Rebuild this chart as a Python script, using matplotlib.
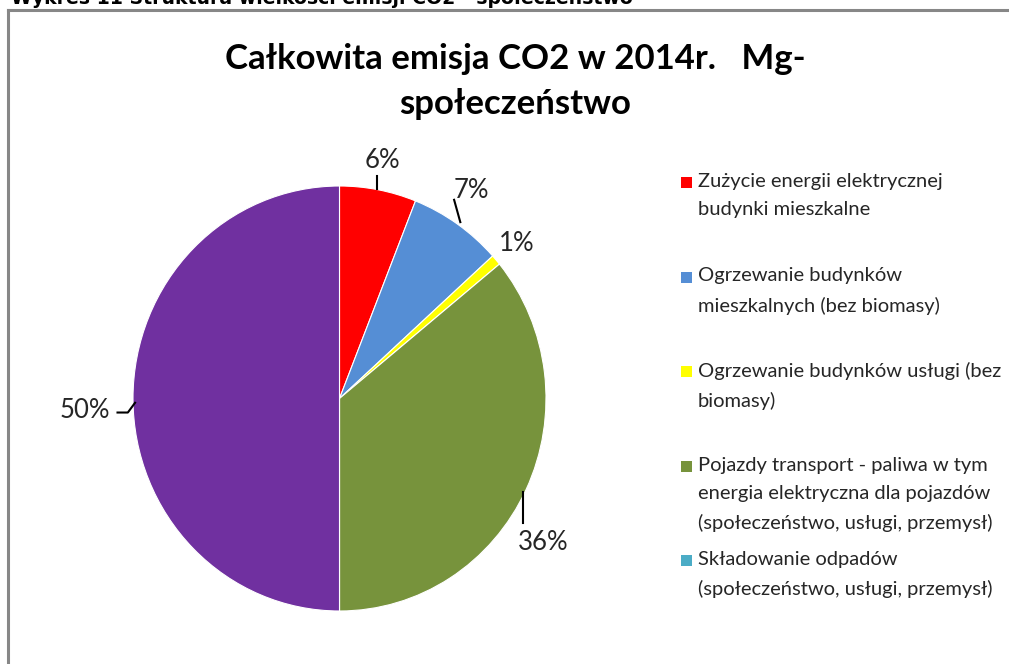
import numpy as np
import matplotlib
matplotlib.use("Agg")
from matplotlib import pyplot as plt
from matplotlib.patches import Rectangle

plt.rcParams['font.family'] = ['Lato', 'DejaVu Sans']

# data
title = "Całkowita emisja CO2 w 2014r.   Mg-\nspołeczeństwo"
caption = "Wykres 11 Struktura wielkości emisji CO2 - społeczeństwo"
categories = [
    "Zużycie energii elektrycznej\nbudynki mieszkalne",
    "Ogrzewanie budynków\nmieszkalnych (bez biomasy)",
    "Ogrzewanie budynków usługi (bez\nbiomasy)",
    "Pojazdy transport - paliwa w tym\nenergia elektryczna dla pojazdów\n(społeczeństwo, usługi, przemysł)",
    "Składowanie odpadów\n(społeczeństwo, usługi, przemysł)",
    "",
]
shares = [6.0, 7.3, 0.8, 35.9, 0.0, 50.0]
colors = ["#FF0000", "#558ED5", "#FFFF00", "#77933C", "#4BACC6", "#7030A0"]
show_in_legend = [True, True, True, True, True, False]

# layout for the percent labels (data units, pie radius = 1)
label_xy = [(0.21, 1.12), (0.64, 0.98), (0.86, 0.73), (0.985, -0.68), None, (-1.235, -0.055)]
leaders = [
    [(0.18, 1.045), (0.18, 0.985)],
    [(0.555, 0.935), (0.585, 0.83)],
    None,
    [(0.89, -0.44), (0.89, -0.585)],
    None,
    [(-1.075, -0.066), (-1.025, -0.066), (-0.99, -0.02)],
]

W, H = 1009, 664
fig = plt.figure(figsize=(W / 100, H / 100), dpi=100)

# outer frame of the chart area
fig.add_artist(plt.Line2D([8 / W, 8 / W], [0, 1 - 10 / H], color="#878787", lw=2.2,
                          transform=fig.transFigure))
fig.add_artist(plt.Line2D([8 / W, 1], [1 - 10 / H, 1 - 10 / H], color="#878787", lw=2.2,
                          transform=fig.transFigure))

# caption above the frame, cut at the top edge
fig.text(11 / W, 1 - 4 / H, caption, family="DejaVu Sans",
         fontsize=13.6, fontweight="bold", va="baseline", ha="left")

for j, line in enumerate(title.split("\n")):
    fig.text(515 / W, 1 - (69 + 45 * j) / H, line, fontsize=25, fontweight="bold",
             ha="center", va="baseline", color="#000000")

cx, cy, rx, ry = 339.5, 398.5, 206.5, 212.5
ax = fig.add_axes([(cx - rx) / W, (H - cy - ry) / H, 2 * rx / W, 2 * ry / H])
wedges, _ = ax.pie(shares, colors=colors, startangle=90, counterclock=False, radius=1,
                   wedgeprops=dict(linewidth=0.8, edgecolor="white"))
ax.set_xlim(-1, 1)
ax.set_ylim(-1, 1)
ax.set_aspect("auto")
ax.axis("off")

for i, v in enumerate(shares):
    if label_xy[i] is None:
        continue
    x, y = label_xy[i]
    ax.text(x, y, "%d%%" % round(v), fontsize=18.5, ha="center", va="center",
            color="#262626", clip_on=False)
    if leaders[i] is not None:
        pts = np.array(leaders[i])
        ax.plot(pts[:, 0], pts[:, 1], color="black", lw=1.5, clip_on=False)

# legend
y0 = 183
step = 94.5
k = 0
for i, name in enumerate(categories):
    if not show_in_legend[i]:
        continue
    yy = y0 + k * step
    fig.add_artist(Rectangle((681 / W, 1 - (yy + 5) / H), 11 / W, 11 / H,
                             facecolor=colors[i], edgecolor="none",
                             transform=fig.transFigure))
    fig.text(698 / W, 1 - (yy - 10) / H, name, fontsize=14.5, ha="left", va="top",
             linespacing=1.8, color="#262626")
    k += 1

fig.savefig("out.png", dpi=100, facecolor="white")
